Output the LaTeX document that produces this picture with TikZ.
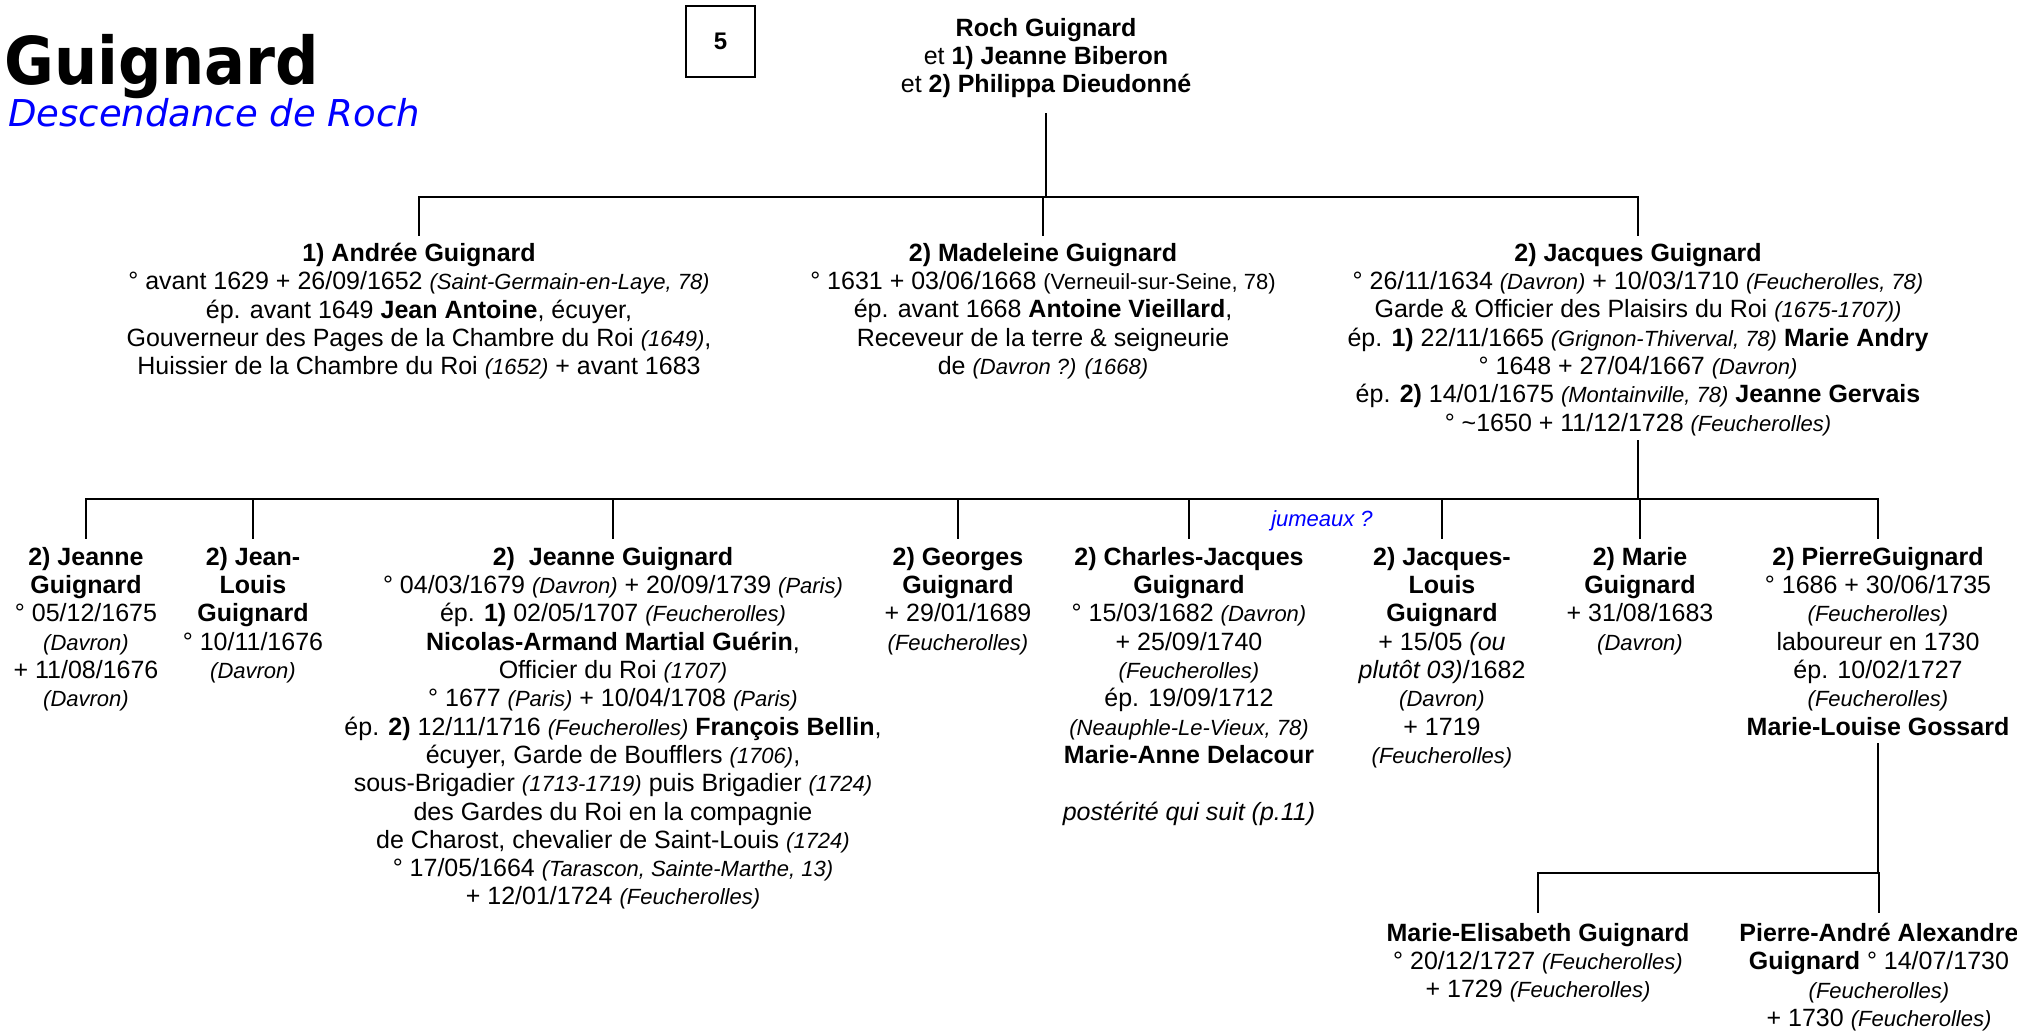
\documentclass[tikz,border=0pt]{standalone}
\usepackage{fontspec}
\usepackage{graphicx}
\setmainfont{Liberation Sans}
\newfontfamily\titlefont{DejaVu Sans}
\definecolor{tblue}{RGB}{0,0,255}
\newcommand{\pl}[1]{{\fontsize{22}{28.3}\selectfont\itshape #1}}
\newcommand{\sm}[1]{{\fontsize{22}{28.3}\selectfont #1}}
\begin{document}
\begin{tikzpicture}[x=1pt,y=-1pt,
  person/.style={align=center, inner sep=0pt, anchor=north, font=\fontsize{25}{28.3}\selectfont},
  link/.style={line width=2.4pt, line cap=rect}]
\useasboundingbox (0,0) rectangle (2017,1031);

% titles
\node[anchor=base west, inner sep=0pt, font=\titlefont\bfseries\fontsize{66}{66}\selectfont] (title) at (4,84) {\scalebox{0.92}[1]{Guignard}};
\node[anchor=base west, inner sep=0pt, text=tblue, font=\titlefont\itshape\fontsize{37}{37}\selectfont] (sub) at (8,126) {Descendance de Roch};
\node[draw, line width=1.5pt, minimum width=69pt, minimum height=71pt, inner sep=0pt, font=\bfseries\fontsize{24}{24}\selectfont] (page) at (720.5,41.5) {5};

% generation 1
\node[person] (roch) at (1046,18) {\textbf{Roch Guignard}\\ et \textbf{1) Jeanne Biberon}\\ et \textbf{2) Philippa Dieudonné}};

% generation 2
\node[person] (andree) at (419,243) {\textbf{1) Andrée Guignard}\\
° avant 1629 + 26/09/1652 \pl{(Saint-Germain-en-Laye, 78)}\\
ép. avant 1649 \textbf{Jean Antoine}, écuyer,\\
Gouverneur des Pages de la Chambre du Roi \pl{(1649)},\\
Huissier de la Chambre du Roi \pl{(1652)} + avant 1683};

\node[person] (madeleine) at (1043,243) {\textbf{2) Madeleine Guignard}\\
° 1631 + 03/06/1668 \sm{(Verneuil-sur-Seine, 78)}\\
ép. avant 1668 \textbf{Antoine Vieillard},\\
Receveur de la terre \& seigneurie\\
de \pl{(Davron ?) (1668)}};

\node[person] (jacques) at (1638,243) {\textbf{2) Jacques Guignard}\\
° 26/11/1634 \pl{(Davron)} + 10/03/1710 \pl{(Feucherolles, 78)}\\
Garde \& Officier des Plaisirs du Roi \pl{(1675-1707))}\\
ép. \textbf{1)} 22/11/1665 \pl{(Grignon-Thiverval, 78)} \textbf{Marie Andry}\\
° 1648 + 27/04/1667 \pl{(Davron)}\\
ép. \textbf{2)} 14/01/1675 \pl{(Montainville, 78)} \textbf{Jeanne Gervais}\\
° \textasciitilde1650 + 11/12/1728 \pl{(Feucherolles)}};

% generation 3
\node[person] (jeanne1) at (86,547) {\textbf{2) Jeanne}\\ \textbf{Guignard}\\ ° 05/12/1675\\ \pl{(Davron)}\\ + 11/08/1676\\ \pl{(Davron)}};
\node[person] (jeanlouis) at (253,547) {\textbf{2) Jean-}\\ \textbf{Louis}\\ \textbf{Guignard}\\ ° 10/11/1676\\ \pl{(Davron)}};
\node[person] (jeanne2) at (613,547) {\textbf{2)\ \ Jeanne Guignard}\\
° 04/03/1679 \pl{(Davron)} + 20/09/1739 \pl{(Paris)}\\
ép. \textbf{1)} 02/05/1707 \pl{(Feucherolles)}\\
\textbf{Nicolas-Armand Martial Guérin},\\
Officier du Roi \pl{(1707)}\\
° 1677 \pl{(Paris)} + 10/04/1708 \pl{(Paris)}\\
ép. \textbf{2)} 12/11/1716 \pl{(Feucherolles)} \textbf{François Bellin},\\
écuyer, Garde de Boufflers \pl{(1706)},\\
sous-Brigadier \pl{(1713-1719)} puis Brigadier \pl{(1724)}\\
des Gardes du Roi en la compagnie\\
de Charost, chevalier de Saint-Louis \pl{(1724)}\\
° 17/05/1664 \pl{(Tarascon, Sainte-Marthe, 13)}\\
+ 12/01/1724 \pl{(Feucherolles)}};
\node[person] (georges) at (958,547) {\textbf{2) Georges}\\ \textbf{Guignard}\\ + 29/01/1689\\ \pl{(Feucherolles)}};
\node[person] (charles) at (1189,547) {\textbf{2) Charles-Jacques}\\ \textbf{Guignard}\\ ° 15/03/1682 \pl{(Davron)}\\ + 25/09/1740\\ \pl{(Feucherolles)}\\ ép. 19/09/1712\\ \pl{(Neauphle-Le-Vieux, 78)}\\ \textbf{Marie-Anne Delacour}\\[28.3pt] \textit{postérité qui suit (p.11)}};
\node[person] (jacqueslouis) at (1442,547) {\textbf{2) Jacques-}\\ \textbf{Louis}\\ \textbf{Guignard}\\ + 15/05 \textit{(ou}\\ \textit{plutôt 03)}/1682\\ \pl{(Davron)}\\ + 1719\\ \pl{(Feucherolles)}};
\node[person] (marie) at (1640,547) {\textbf{2) Marie}\\ \textbf{Guignard}\\ + 31/08/1683\\ \pl{(Davron)}};
\node[person] (pierre) at (1878,547) {\textbf{2) PierreGuignard}\\ ° 1686 + 30/06/1735\\ \pl{(Feucherolles)}\\ laboureur en 1730\\ ép. 10/02/1727\\ \pl{(Feucherolles)}\\ \textbf{Marie-Louise Gossard}};
\node[inner sep=0pt, text=tblue, font=\itshape\fontsize{22}{22}\selectfont] (jum) at (1322,521) {jumeaux ?};

% generation 4
\node[person] (mariee) at (1538,923) {\textbf{Marie-Elisabeth Guignard}\\ ° 20/12/1727 \pl{(Feucherolles)}\\ + 1729 \pl{(Feucherolles)}};
\node[person] (pierrea) at (1879,923) {\textbf{Pierre-André Alexandre}\\ \textbf{Guignard} ° 14/07/1730\\ \pl{(Feucherolles)}\\ + 1730 \pl{(Feucherolles)}};

% connectors
\coordinate (b1) at (1045,197);
\coordinate (b2) at (1640,499);
\coordinate (b3) at (1878,873);
\draw[link] (roch.south |- 0,114) -- (roch.south |- b1);
\draw[link] (andree.north |- b1) -- (jacques.north |- b1);
\foreach \n in {andree,madeleine,jacques}
  \draw[link] (\n.north |- b1) -- (\n.north |- 0,235);
\draw[link] (jacques.south |- 0,441) -- (jacques.south |- b2);
\draw[link] (jeanne1.north |- b2) -- (pierre.north |- b2);
\foreach \n in {jeanne1,jeanlouis,jeanne2,georges,charles,jacqueslouis,marie,pierre}
  \draw[link] (\n.north |- b2) -- (\n.north |- 0,538);
\draw[link] (pierre.south |- 0,744) -- (pierre.south |- b3);
\draw[link] (mariee.north |- b3) -- (pierrea.north |- b3);
\foreach \n in {mariee,pierrea}
  \draw[link] (\n.north |- b3) -- (\n.north |- 0,912);
\end{tikzpicture}
\end{document}
